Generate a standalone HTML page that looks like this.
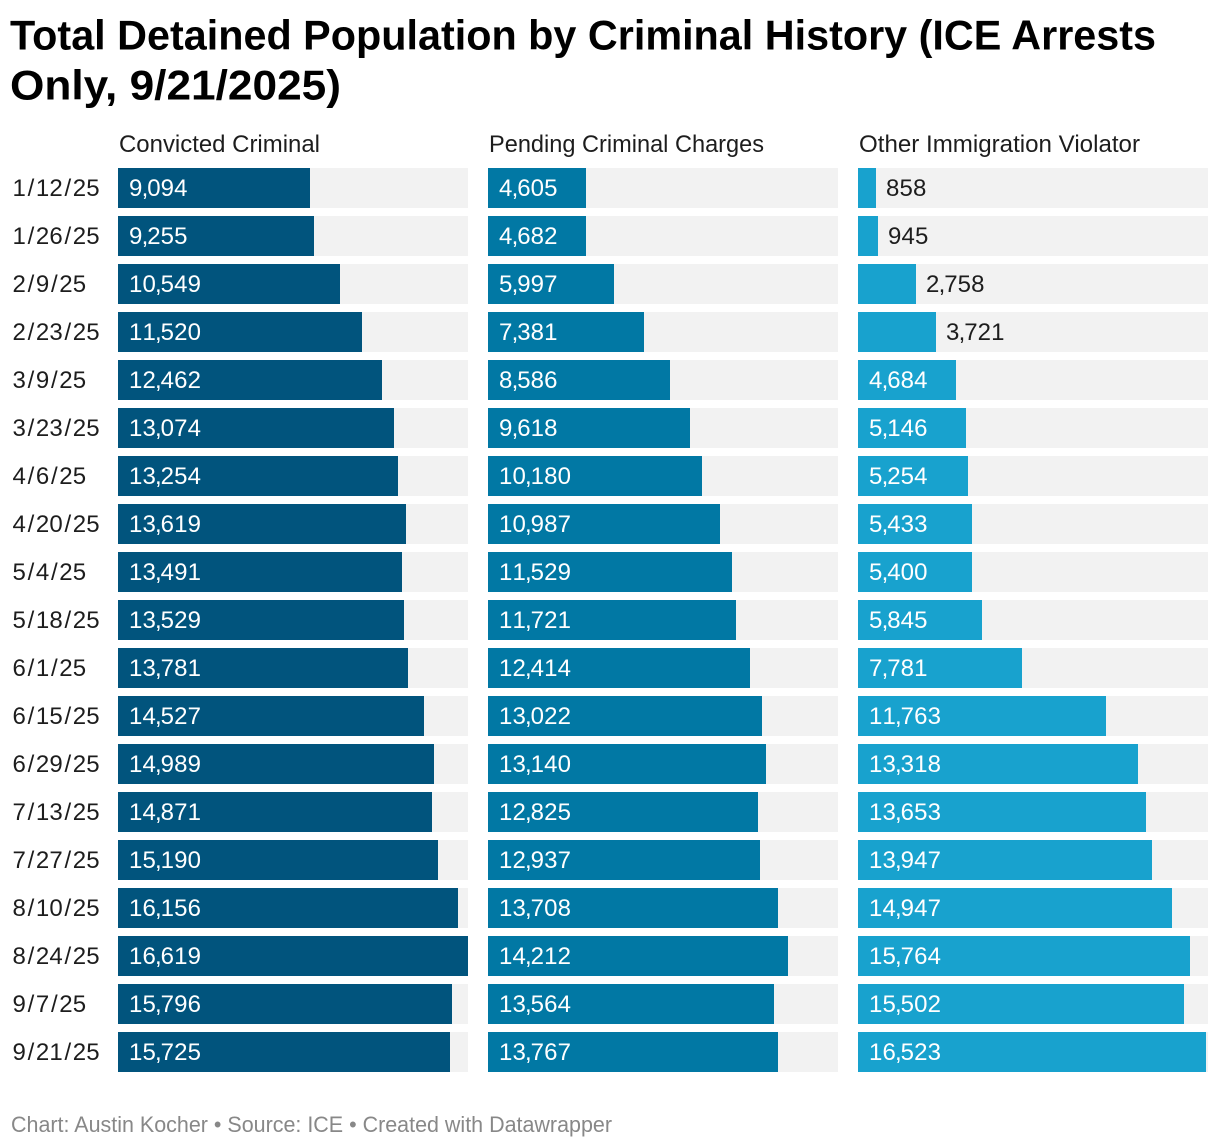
<!DOCTYPE html>
<html lang="en">
<head>
<meta charset="utf-8">
<title>Total Detained Population by Criminal History</title>
<style>
html,body{margin:0;padding:0;background:#fff;width:1220px;height:1148px;overflow:hidden}
svg{display:block}
text{font-family:"Liberation Sans",sans-serif}
</style>
</head>
<body>
<svg id="chart" xmlns="http://www.w3.org/2000/svg" width="1220" height="1148" viewBox="0 0 1220 1148">
  <text x="10" y="49.7" font-size="42" font-weight="700" fill="#000" textLength="1146" lengthAdjust="spacingAndGlyphs">Total Detained Population by Criminal History (ICE Arrests</text>
  <text x="10" y="99.7" font-size="42" font-weight="700" fill="#000" textLength="331" lengthAdjust="spacingAndGlyphs">Only, 9/21/2025)</text>
  <text x="119" y="152" font-size="24" fill="#1d1d1d" textLength="201" lengthAdjust="spacingAndGlyphs">Convicted Criminal</text>
  <text x="489" y="152" font-size="24" fill="#1d1d1d" textLength="275" lengthAdjust="spacingAndGlyphs">Pending Criminal Charges</text>
  <text x="859" y="152" font-size="24" fill="#1d1d1d" textLength="281" lengthAdjust="spacingAndGlyphs">Other Immigration Violator</text>
  <g id="rows"></g>
  <text x="11" y="1132" font-size="22" fill="#888888" textLength="601" lengthAdjust="spacingAndGlyphs">Chart: Austin Kocher • Source: ICE • Created with Datawrapper</text>
</svg>
<script>
const categories = ["1/12/25","1/26/25","2/9/25","2/23/25","3/9/25","3/23/25","4/6/25","4/20/25","5/4/25","5/18/25","6/1/25","6/15/25","6/29/25","7/13/25","7/27/25","8/10/25","8/24/25","9/7/25","9/21/25"];
const convictedCriminal = [9094,9255,10549,11520,12462,13074,13254,13619,13491,13529,13781,14527,14989,14871,15190,16156,16619,15796,15725];
const pendingCharges = [4605,4682,5997,7381,8586,9618,10180,10987,11529,11721,12414,13022,13140,12825,12937,13708,14212,13564,13767];
const otherViolator = [858,945,2758,3721,4684,5146,5254,5433,5400,5845,7781,11763,13318,13653,13947,14947,15764,15502,16523];

const NS = 'http://www.w3.org/2000/svg';
const rowsGroup = document.getElementById('rows');
const panels = [
  {key:'convicted', values:convictedCriminal, left:118, color:'#01547d', domainMax:16584},
  {key:'pending', values:pendingCharges, left:488, color:'#0178a4', domainMax:16590},
  {key:'other', values:otherViolator, left:858, color:'#18a2ce', domainMax:16627}
];
const PANEL_WIDTH = 350, ROW_TOP = 168, ROW_STEP = 48, BAR_HEIGHT = 40;

function xScale(v, domainMax){
  const w = v / domainMax * PANEL_WIDTH;
  return Math.min(PANEL_WIDTH, Math.round(w / 2) * 2);
}
function yScale(i){ return ROW_TOP + i * ROW_STEP; }
function formatValue(v){ return v.toString().replace(/\B(?=(\d{3})+$)/g, ','); }
function advance(ch){ return ch === ',' ? 4.72 : ch === '/' ? 9.9 : 13.48; }
function glyphXs(str, x0){
  const xs = [];
  let x = x0;
  for (const ch of str) {
    let off = 0;
    if (ch === '/') off = 1.6;
    if (ch === ',') off = -0.9;
    xs.push((x + off).toFixed(2));
    x += advance(ch);
  }
  return {xs: xs.join(' '), width: x - x0};
}
function labelWidth(str){ return glyphXs(str, 0).width; }

categories.forEach((cat, i) => {
  const y = yScale(i);

  const dateLabel = document.createElementNS(NS, 'text');
  
  
  dateLabel.setAttribute('x', glyphXs(cat, 12.5).xs);
  dateLabel.setAttribute('y', y + 28);
  dateLabel.setAttribute('font-size', '24');
  dateLabel.setAttribute('fill', '#1d1d1d');
  dateLabel.textContent = cat;
  rowsGroup.appendChild(dateLabel);

  panels.forEach(p => {
    const track = document.createElementNS(NS, 'rect');
    
    
    track.setAttribute('x', p.left);
    track.setAttribute('y', y);
    track.setAttribute('width', PANEL_WIDTH);
    track.setAttribute('height', BAR_HEIGHT);
    track.setAttribute('fill', '#f2f2f2');
    rowsGroup.appendChild(track);

    const v = p.values[i];
    const w = xScale(v, p.domainMax);
    const bar = document.createElementNS(NS, 'rect');
    
    
    bar.setAttribute('x', p.left);
    bar.setAttribute('y', y);
    bar.setAttribute('width', w);
    bar.setAttribute('height', BAR_HEIGHT);
    bar.setAttribute('fill', p.color);
    rowsGroup.appendChild(bar);

    const str = formatValue(v);
    const inside = w >= labelWidth(str) + 22;
    const startX = inside ? p.left + 11 : p.left + w + 10;
    const label = document.createElementNS(NS, 'text');
    
    
    label.setAttribute('x', glyphXs(str, startX).xs);
    label.setAttribute('y', y + 28);
    label.setAttribute('font-size', '24');
    label.setAttribute('fill', inside ? '#ffffff' : '#1d1d1d');
    label.textContent = str;
    rowsGroup.appendChild(label);
  });
});
</script>
</body>
</html>
